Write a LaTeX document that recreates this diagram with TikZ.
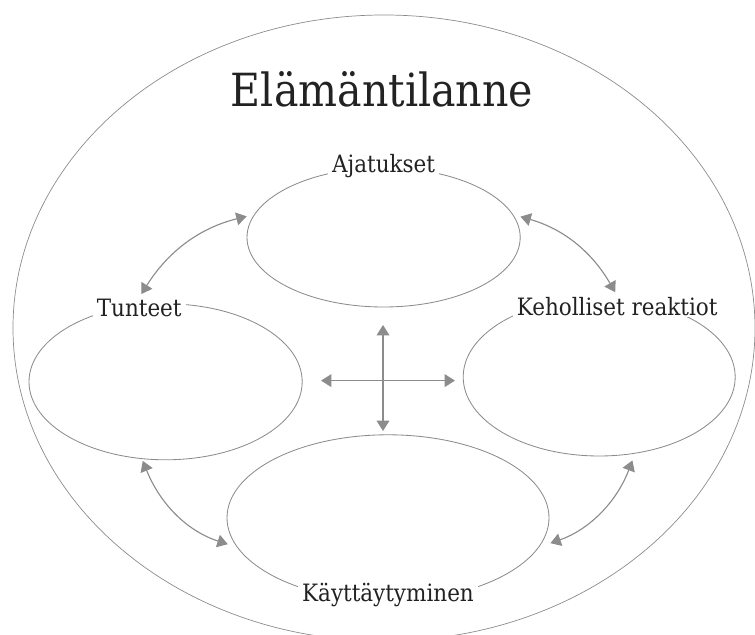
\documentclass[tikz,border=0pt]{standalone}
\usepackage{fontspec}
\setmainfont{DejaVu Serif Condensed}
\usetikzlibrary{shapes.geometric, arrows.meta, positioning}
\definecolor{linegray}{HTML}{8C8C8C}
\definecolor{textdark}{HTML}{222222}

\begin{document}
\begin{tikzpicture}[
  area/.style={ellipse, draw=linegray, line width=0.5pt, inner sep=0pt},
  blob/.style={ellipse, draw=linegray, line width=0.6pt, inner sep=0pt},
  tag/.style={fill=white, text=textdark, inner xsep=3pt, inner ysep=1pt, anchor=base, font=\fontsize{17}{20}\selectfont},
  link/.style={{Triangle[length=2.6mm,width=3.2mm]}-{Triangle[length=2.6mm,width=3.2mm]}, draw=linegray, line width=0.8pt}
]
  \useasboundingbox (0,0) rectangle (18.875,15.875);

  % Outer area and title
  \node[area, minimum width=18.55cm, minimum height=15.65cm] (elama) at (9.6,7.675) {};
  \node[text=textdark, anchor=base, font=\fontsize{32.5}{36}\selectfont] (otsikko) at (9.55,13.2) {Elämäntilanne};

  % Four areas
  \node[blob, minimum width=6.83cm, minimum height=3.48cm] (ajatukset) at (9.59,9.94) {};
  \node[blob, minimum width=6.83cm, minimum height=3.9cm] (tunteet) at (4.14,6.33) {};
  \node[blob, minimum width=6.8cm, minimum height=3.95cm] (keho) at (14.98,6.45) {};
  \node[blob, minimum width=8.05cm, minimum height=4.15cm] (kaytos) at (9.7,2.93) {};

  % Labels on the borders
  \node[tag, yshift=-0.13cm] (ajatuksetlbl) at (ajatukset.north) {Ajatukset};
  \node[tag, xshift=-0.66cm, yshift=-0.33cm] (tunteetlbl) at (tunteet.north) {Tunteet};
  \node[tag, xshift=0.45cm, yshift=-0.45cm] (keholbl) at (keho.north) {Keholliset reaktiot};
  \node[tag] (kaytoslbl) at (kaytos.south) {Käyttäytyminen};

  % Links between the areas
  \draw[link, shorten <=0.1cm, shorten >=0.19cm] (tunteetlbl.north) to[bend left=22] (ajatukset.170);
  \draw[link, shorten <=0.19cm, shorten >=0.1cm] (ajatukset.10) to[bend left=22] (keholbl.north);
  \draw[link, shorten <=0.05cm, shorten >=0.24cm] (tunteet.253) to[bend right=25] (kaytos.191);
  \draw[link, shorten <=0.18cm, shorten >=0.3cm] (keho.295) to[bend left=25] (kaytos.349);

  % Cross in the middle
  \coordinate (hub) at (9.575,6.36);
  \coordinate[above=1.39cm of hub] (hubN);
  \coordinate[below=1.26cm of hub] (hubS);
  \coordinate[left=1.55cm of hub] (hubW);
  \coordinate[right=1.8cm of hub] (hubE);
  \draw[link] (hubN) -- (hubS);
  \draw[link] (hubW) -- (hubE);
\end{tikzpicture}
\end{document}
